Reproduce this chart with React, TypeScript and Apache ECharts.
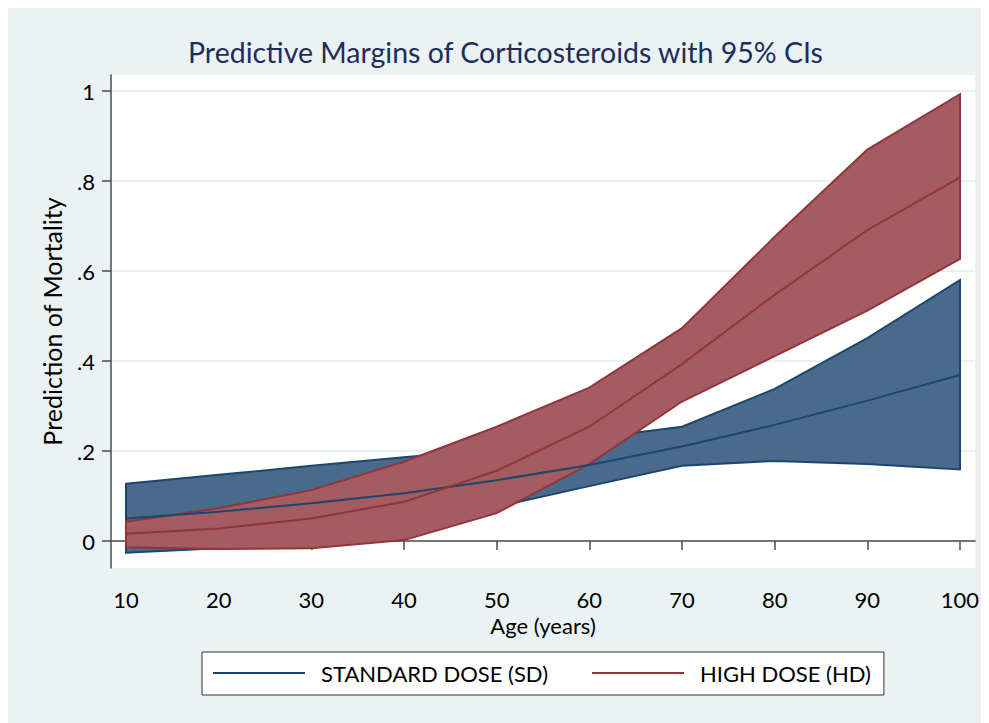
import React, { useEffect, useRef } from "react";
import * as echarts from "echarts";

const ages = [10, 20, 30, 40, 50, 60, 70, 80, 90, 100];
const sdMean = [0.05, 0.065, 0.084, 0.106, 0.135, 0.169, 0.21, 0.258, 0.312, 0.369];
const sdLower = [-0.026, -0.016, 0.01, 0.04, 0.076, 0.122, 0.167, 0.178, 0.171, 0.159];
const sdUpper = [0.127, 0.147, 0.167, 0.186, 0.205, 0.228, 0.254, 0.338, 0.451, 0.58];
const hdMean = [0.016, 0.028, 0.05, 0.087, 0.156, 0.254, 0.393, 0.547, 0.691, 0.808];
const hdLower = [-0.014, -0.018, -0.016, 0.002, 0.062, 0.171, 0.31, 0.411, 0.512, 0.627];
const hdUpper = [0.043, 0.073, 0.113, 0.176, 0.254, 0.341, 0.473, 0.676, 0.87, 0.993];
const yTicks = [0, 0.2, 0.4, 0.6, 0.8, 1];
const xTicks = [10, 20, 30, 40, 50, 60, 70, 80, 90, 100];

const SD_NAME = "STANDARD DOSE (SD)";
const HD_NAME = "HIGH DOSE (HD)";
const SD_LINE = "#1A476F";
const SD_FILL = "#4A6A8C";
const HD_LINE = "#90353B";
const HD_FILL = "#A55C60";
const BG = "#EAF2F3";
const FONT = "Lato, sans-serif";

function band(name: string, lower: number[], upper: number[], fill: string, stroke: string) {
  return {
    type: "custom",
    name,
    silent: true,
    data: [[ages[0], lower[0]]],
    renderItem: (_p: any, api: any) => {
      const pts: number[][] = [];
      for (let i = 0; i < ages.length; i++) pts.push(api.coord([ages[i], upper[i]]));
      for (let i = ages.length - 1; i >= 0; i--) pts.push(api.coord([ages[i], lower[i]]));
      return {
        type: "polygon",
        shape: { points: pts },
        style: { fill, stroke, lineWidth: 2, lineJoin: "miter" },
      };
    },
  };
}

export default function App() {
  const ref = useRef<HTMLDivElement>(null);
  useEffect(() => {
    if (!ref.current) return;
    const chart = echarts.init(ref.current, undefined, { renderer: "svg" });
    chart.setOption({
      animation: false,
      backgroundColor: BG,
      title: {
        text: "Predictive Margins of Corticosteroids with 95% CIs",
        left: 180,
        top: 24,
        padding: [5, 0, 5, 0],
        textStyle: { fontFamily: FONT, fontSize: 28.5, fontWeight: "normal", color: "#1F2D5A" },
      },
      legend: {
        data: [
          { name: SD_NAME, icon: "rect" },
          { name: HD_NAME, icon: "rect" },
        ],
        left: 194,
        top: 644,
        orient: "horizontal",
        padding: [10, 13, 11, 11],
        itemWidth: 92,
        itemHeight: 2,
        itemGap: 44,
        borderColor: "#333",
        borderWidth: 1,
        backgroundColor: "#fff",
        borderRadius: 0,
        textStyle: { fontFamily: FONT, fontSize: 22, color: "#000", padding: [0, 0, 0, 11] },
      },
      grid: {
        left: 103,
        top: 67,
        right: 14,
        bottom: 155,
        show: true,
        backgroundColor: "#fff",
        borderWidth: 0,
      },
      xAxis: {
        type: "value",
        min: 8.381,
        max: 101.62,
        name: "Age (years)",
        nameLocation: "middle",
        nameGap: 40,
        nameTextStyle: { fontFamily: FONT, fontSize: 22, color: "#000" },
        axisLine: { show: true, lineStyle: { color: "#4d4d4d", width: 1.5 } },
        axisTick: { show: true, length: 9, customValues: xTicks, lineStyle: { color: "#4d4d4d", width: 1.5 } },
        axisLabel: {
          customValues: xTicks,
          margin: 20,
          fontFamily: FONT,
          fontSize: 22,
          color: "#000",
        },
        splitLine: { show: false },
      },
      yAxis: {
        type: "value",
        min: -0.06,
        max: 1.0356,
        name: "Prediction of Mortality",
        nameLocation: "middle",
        nameGap: 47,
        nameTextStyle: { fontFamily: FONT, fontSize: 25, color: "#000" },
        axisLine: { show: true, lineStyle: { color: "#4d4d4d", width: 1.5 } },
        axisTick: { show: true, length: 9, customValues: yTicks, lineStyle: { color: "#4d4d4d", width: 1.5 } },
        axisLabel: {
          customValues: yTicks,
          margin: 16,
          fontFamily: FONT,
          fontSize: 22,
          color: "#000",
          formatter: (v: number) => (v === 0 ? "0" : v === 1 ? "1" : String(v).replace(/^0\./, ".")),
        },
        splitLine: { show: true, lineStyle: { color: "#E8F0F2", width: 2 } },
      },
      series: [
        band("SD CI", sdLower, sdUpper, SD_FILL, SD_LINE),
        band("HD CI", hdLower, hdUpper, HD_FILL, HD_LINE),
        {
          type: "line",
          name: SD_NAME,
          data: ages.map((a, i) => [a, sdMean[i]]),
          symbol: "none",
          lineStyle: { color: SD_LINE, width: 2 },
          itemStyle: { color: SD_LINE },
        },
        {
          type: "line",
          name: HD_NAME,
          data: ages.map((a, i) => [a, hdMean[i]]),
          symbol: "none",
          lineStyle: { color: HD_LINE, width: 2 },
          itemStyle: { color: HD_LINE },
        },
      ],
    });
    return () => chart.dispose();
  }, []);
  return <div ref={ref} style={{ width: 981, height: 715 }} />;
}
